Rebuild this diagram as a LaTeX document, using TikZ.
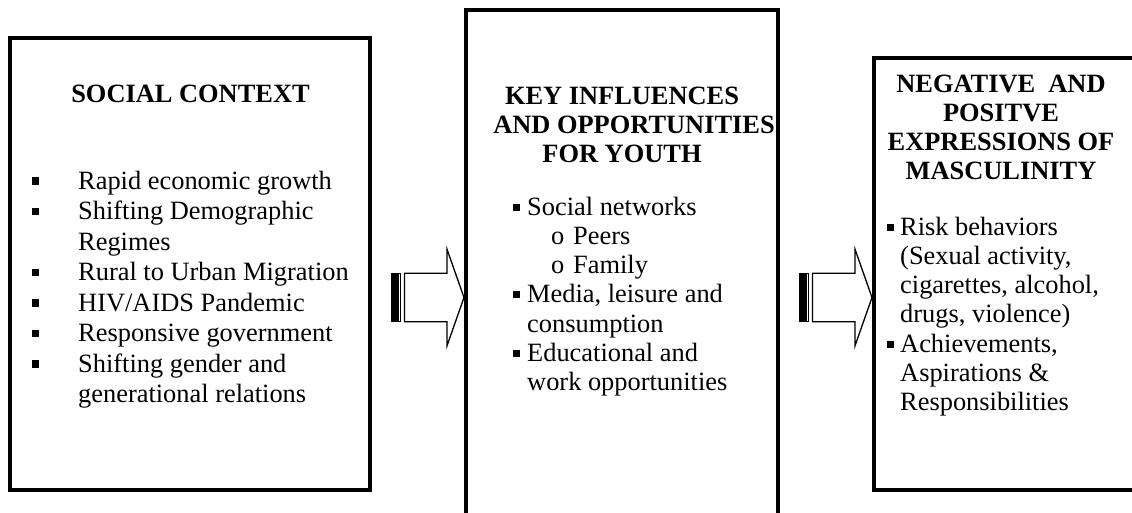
\documentclass[tikz,border=0pt]{standalone}
\usepackage{fontspec}
\setmainfont{Liberation Serif}
% square list bullets, raised to sit at mid x-height
\newcommand\sqbul{\rule[4.5pt]{7.5pt}{7.5pt}}
\newcommand\smbul{\rule[4.5pt]{7pt}{7pt}}
\begin{document}
\begin{tikzpicture}[x=1pt,y=-1pt,
  frame/.style={draw=black,line width=4pt,inner sep=0pt,line join=miter},
  txt/.style={inner sep=0pt,anchor=base west},
  ttl/.style={inner sep=0pt,anchor=base,font=\fontsize{26.4}{29.3}\selectfont\bfseries},
  blockarrow/.style={draw=black,line width=1.3pt,fill=white,line join=miter},
  striped arrow/.pic={
    \filldraw[black,line width=0.8pt] (-72.3,-24.2) rectangle (-65.3,24.2);
    \draw[blockarrow] (-65.3,-24.2) rectangle (-63.2,24.2);
    \draw[blockarrow] (-59.5,-24.2) -- (-17,-24.2) -- (-17,-48.3) -- (0,0)
      -- (-17,48.3) -- (-17,24.2) -- (-59.5,24.2) -- cycle;
  }]
\useasboundingbox (0,0) rectangle (1132,512);
\clip (0,0) rectangle (1132,512);

% the three frames
\node[frame,minimum width=360pt,minimum height=451.5pt] (ctx) at (190,263.75) {};
\node[frame,minimum width=312pt,minimum height=506pt]   (inf) at (622,263) {};
\node[frame,minimum width=262pt,minimum height=432.5pt] (mas) at (1005,273.75) {};

% block arrows between the frames
\coordinate (tipA) at (inf.west |- 0,297.5);
\coordinate (tipB) at (mas.west |- 0,297.5);
\pic at (tipA) {striped arrow};
\pic at (tipB) {striped arrow};

% headings
\node[ttl] (ctxT) at (190.5,102) {SOCIAL CONTEXT};
\node[ttl] (infT) at (622,104) {\begin{tabular}[t]{@{}c@{}}KEY INFLUENCES\\\hspace*{24pt}AND OPPORTUNITIES\\FOR YOUTH\end{tabular}};
\node[ttl] (masT) at (1001,92) {\begin{tabular}[t]{@{}c@{}}NEGATIVE\ \ AND\\POSITVE\\EXPRESSIONS OF\\MASCULINITY\end{tabular}};

% lists
\node[txt,font=\fontsize{26.4}{30.5}\selectfont] (ctxL) at (31.7,189) {%
\begin{tabular}[t]{@{}l@{\hspace{38.8pt}}l@{}}
\sqbul & Rapid economic growth\\
\sqbul & Shifting Demographic\\
       & Regimes\\
\sqbul & Rural to Urban Migration\\
\sqbul & HIV/AIDS Pandemic\\
\sqbul & Responsive government\\
\sqbul & Shifting gender and\\
       & generational relations
\end{tabular}};

\node[txt,font=\fontsize{26.4}{29.3}\selectfont] (infL) at (513,215) {%
\begin{tabular}[t]{@{}l@{\hspace{7pt}}l@{}}
\smbul & Social networks\\
       & \hspace*{24pt}\makebox[22pt][l]{o}Peers\\
       & \hspace*{24pt}\makebox[22pt][l]{o}Family\\
\smbul & Media, leisure and\\
       & consumption\\
\smbul & Educational and\\
       & work opportunities
\end{tabular}};

\node[txt,font=\fontsize{26.4}{29.3}\selectfont] (masL) at (887,235) {%
\begin{tabular}[t]{@{}l@{\hspace{6pt}}l@{}}
\smbul & Risk behaviors\\
       & (Sexual activity,\\
       & cigarettes, alcohol,\\
       & drugs, violence)\\
\smbul & Achievements,\\
       & Aspirations \&\\
       & Responsibilities
\end{tabular}};
\end{tikzpicture}
\end{document}
